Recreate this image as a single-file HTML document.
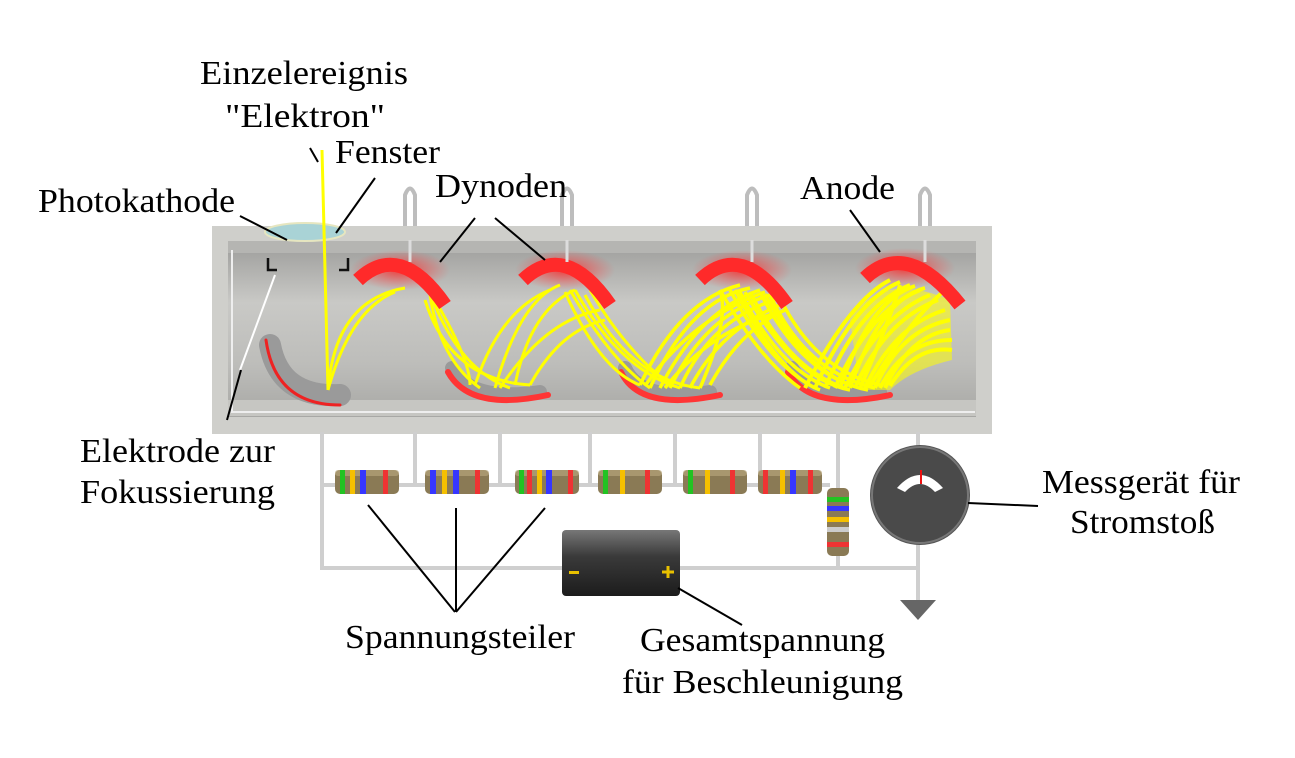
<!DOCTYPE html>
<html><head><meta charset="utf-8"><style>
html,body{margin:0;padding:0;background:#fff}
svg{display:block}
text{font-family:"Liberation Serif",serif;font-size:34px;fill:#000}
</style></head><body>
<svg width="1295" height="758" viewBox="0 0 1295 758" xmlns="http://www.w3.org/2000/svg">
<defs>
<linearGradient id="inner" x1="0" y1="0" x2="0" y2="1">
<stop offset="0" stop-color="#9c9c9a"/><stop offset="0.35" stop-color="#c9c9c6"/><stop offset="0.7" stop-color="#bdbdba"/><stop offset="1" stop-color="#a8a8a5"/>
</linearGradient>
<linearGradient id="bat" x1="0" y1="0" x2="0" y2="1">
<stop offset="0" stop-color="#777"/><stop offset="0.4" stop-color="#3a3a3a"/><stop offset="1" stop-color="#1c1c1c"/>
</linearGradient>
<radialGradient id="glow"><stop offset="0" stop-color="#ff2020" stop-opacity="0.8"/><stop offset="1" stop-color="#ff4040" stop-opacity="0"/></radialGradient>
<g id="res"><rect x="0" y="0" width="64" height="24" rx="5" fill="#8a7a55"/><rect x="0" y="0" width="64" height="6" rx="3" fill="#b5a47a" opacity="0.7"/></g>
</defs>

<g fill="none" stroke="#bdbdbd" stroke-width="4">
<path d="M405,245 V195 Q410,182 415,195 V240"/>
<path d="M562,245 V195 Q567,182 572,195 V240"/>
<path d="M747,245 V195 Q752,182 757,195 V240"/>
<path d="M920,245 V195 Q925,182 930,195 V240"/>
</g>

<rect x="212" y="226" width="780" height="208" fill="#cfcfcb"/>
<rect x="228" y="241" width="748" height="176" fill="url(#inner)"/>
<rect x="228" y="241" width="748" height="12" fill="#b5b5b2"/>
<rect x="228" y="400" width="748" height="16" fill="#c6c6c2"/>
<path d="M232,250 V412 H975" fill="none" stroke="#eee" stroke-width="2"/>
<ellipse cx="305" cy="232" rx="40" ry="9" fill="#a9d3d6" stroke="#e6e6c0" stroke-width="2"/>
<path d="M268,258 V270 H277 M348,258 V270 H339" fill="none" stroke="#111" stroke-width="2.5"/>
<line x1="275" y1="275" x2="240" y2="370" stroke="#fff" stroke-width="2"/>

<ellipse cx="400" cy="270" rx="50" ry="20" fill="url(#glow)"/>
<ellipse cx="565" cy="270" rx="50" ry="20" fill="url(#glow)"/>
<ellipse cx="742" cy="270" rx="50" ry="20" fill="url(#glow)"/>
<ellipse cx="905" cy="268" rx="50" ry="20" fill="url(#glow)"/>

<g fill="none" stroke-linecap="round">
<path d="M270,345 Q280,398 340,395" stroke="#9a9a9a" stroke-width="22"/>
<path d="M266,340 Q275,405 340,405" stroke="#e22" stroke-width="3"/>
<path d="M452,368 Q470,402 540,392" stroke="#9a9a9a" stroke-width="14"/>
<path d="M448,372 Q470,412 548,395" stroke="#ff3535" stroke-width="6"/>
<path d="M625,368 Q640,402 710,392" stroke="#9a9a9a" stroke-width="14"/>
<path d="M621,372 Q640,412 720,395" stroke="#ff3535" stroke-width="6"/>
<path d="M792,368 Q810,402 880,392" stroke="#9a9a9a" stroke-width="14"/>
<path d="M788,372 Q810,412 890,395" stroke="#ff3535" stroke-width="6"/>
</g>

<g fill="none" stroke="#ffff00" stroke-width="3">
<path d="M322,150 L328,390"/>
<path d="M328,390 Q335,300 405,288"/>
<path d="M328,390 Q350,310 395,292"/>
<path d="M430,295 Q440,360 480,388"/><path d="M432,298 Q460,370 510,388"/><path d="M425,300 Q450,380 530,385"/><path d="M435,300 Q470,360 470,385"/>
<path d="M475,385 Q500,310 550,290"/><path d="M495,388 Q520,300 560,285"/><path d="M515,385 Q530,310 575,290"/><path d="M500,388 Q545,320 600,310"/><path d="M530,385 Q560,330 605,320"/>
<path d="M570,290 Q610,360 650,388"/><path d="M575,290 Q620,370 680,388"/><path d="M585,295 Q630,380 700,388"/><path d="M565,292 Q600,370 640,385"/><path d="M590,290 Q625,350 670,385"/>
</g>
<g fill="none" stroke="#ffff00" stroke-width="3.5">
<path d="M640,385 Q680,300 740,285"/><path d="M650,388 Q690,300 750,288"/><path d="M660,388 Q700,310 760,290"/><path d="M670,388 Q705,315 770,295"/><path d="M680,388 Q710,320 775,300"/><path d="M690,388 Q720,330 780,305"/><path d="M700,388 Q730,320 720,290"/><path d="M710,385 Q740,330 785,310"/><path d="M645,386 Q690,320 765,292"/><path d="M665,388 Q710,330 780,312"/>
<path d="M720,290 Q760,360 800,388"/><path d="M730,290 Q770,365 815,388"/><path d="M740,292 Q780,370 830,388"/><path d="M750,292 Q790,370 845,388"/><path d="M760,292 Q800,372 860,388"/><path d="M770,295 Q805,372 875,388"/><path d="M780,298 Q815,370 880,385"/><path d="M735,290 Q780,375 820,390"/><path d="M745,292 Q795,380 850,390"/><path d="M765,294 Q810,380 868,390"/>
</g>
<g fill="none" stroke="#ffff00" stroke-width="4">
<path d="M805,388 Q850,300 890,280"/><path d="M815,388 Q855,300 900,282"/><path d="M825,388 Q860,305 910,285"/><path d="M835,388 Q870,310 920,290"/><path d="M845,388 Q880,315 930,295"/><path d="M855,388 Q885,320 938,300"/><path d="M865,388 Q895,325 945,310"/><path d="M875,388 Q900,330 950,320"/><path d="M885,388 Q910,335 950,330"/><path d="M860,388 Q890,320 900,285"/><path d="M870,386 Q910,320 945,290"/><path d="M850,388 Q880,300 925,288"/><path d="M840,388 Q870,300 915,286"/><path d="M880,388 Q905,340 952,340"/><path d="M890,386 Q915,345 952,350"/>
</g>
<path d="M860,390 L850,320 Q880,270 950,300 L952,360 Q910,370 890,390 Z" fill="#ffff00" opacity="0.55"/>

<g fill="none" stroke-linecap="butt">
<path d="M358,280 Q400,240 445,305" stroke="#ff2a2a" stroke-width="14"/>
<path d="M523,280 Q565,240 610,305" stroke="#ff2a2a" stroke-width="14"/>
<path d="M700,280 Q742,240 787,305" stroke="#ff2a2a" stroke-width="14"/>
<path d="M865,278 Q907,238 960,305" stroke="#ff2a2a" stroke-width="14"/>
</g>
<g stroke="#ddd" stroke-width="3">
<line x1="410" y1="240" x2="410" y2="262"/><line x1="567" y1="240" x2="567" y2="262"/><line x1="752" y1="240" x2="752" y2="262"/><line x1="925" y1="240" x2="925" y2="262"/>
</g>

<g fill="none" stroke="#cfcfcf" stroke-width="4">
<path d="M322,432 V568 H918"/>
<path d="M322,485 H830"/>
<path d="M415,432 V485 M500,432 V485 M590,432 V485 M675,432 V485 M760,432 V485 M838,432 V488"/>
<path d="M918,432 V600"/>
<path d="M838,555 V568"/>
</g>
<g>
<use href="#res" x="335" y="470"/><use href="#res" x="425" y="470"/><use href="#res" x="515" y="470"/>
<use href="#res" x="598" y="470"/><use href="#res" x="683" y="470"/><use href="#res" x="758" y="470"/>
</g>
<g>
<rect x="340" y="470" width="5" height="24" fill="#22c322"/><rect x="350" y="470" width="5" height="24" fill="#f5c000"/><rect x="360" y="470" width="6" height="24" fill="#3636ff"/><rect x="383" y="470" width="5" height="24" fill="#e33"/>
<rect x="430" y="470" width="6" height="24" fill="#3636ff"/><rect x="442" y="470" width="5" height="24" fill="#f5c000"/><rect x="453" y="470" width="6" height="24" fill="#3636ff"/><rect x="475" y="470" width="5" height="24" fill="#e33"/>
<rect x="519" y="470" width="5" height="24" fill="#22c322"/><rect x="527" y="470" width="5" height="24" fill="#e33"/><rect x="537" y="470" width="5" height="24" fill="#f5c000"/><rect x="546" y="470" width="6" height="24" fill="#3636ff"/><rect x="568" y="470" width="5" height="24" fill="#e33"/>
<rect x="603" y="470" width="5" height="24" fill="#22c322"/><rect x="620" y="470" width="5" height="24" fill="#f5c000"/><rect x="645" y="470" width="5" height="24" fill="#e33"/>
<rect x="688" y="470" width="5" height="24" fill="#22c322"/><rect x="705" y="470" width="5" height="24" fill="#f5c000"/><rect x="730" y="470" width="5" height="24" fill="#e33"/>
<rect x="763" y="470" width="5" height="24" fill="#e33"/><rect x="780" y="470" width="5" height="24" fill="#f5c000"/><rect x="790" y="470" width="6" height="24" fill="#3636ff"/><rect x="808" y="470" width="5" height="24" fill="#e33"/>
</g>
<rect x="827" y="488" width="22" height="68" rx="5" fill="#8a7a55"/>
<rect x="827" y="497" width="22" height="5" fill="#22c322"/><rect x="827" y="506" width="22" height="5" fill="#3636ff"/><rect x="827" y="517" width="22" height="5" fill="#f5c000"/><rect x="827" y="527" width="22" height="5" fill="#ccc"/><rect x="827" y="542" width="22" height="5" fill="#e33"/>

<rect x="562" y="530" width="118" height="66" rx="4" fill="url(#bat)"/>
<rect x="569" y="571" width="10" height="3" fill="#e8c000"/>
<path d="M668,566 v12 M662,572 h12" stroke="#e8c000" stroke-width="3"/>

<circle cx="920" cy="495" r="50" fill="#555"/>
<circle cx="920" cy="495" r="48" fill="#4a4a4a" stroke="#777" stroke-width="2"/>
<path d="M897,488 Q920,462 943,488 L935,492 Q920,476 905,492 Z" fill="#fff"/>
<line x1="921" y1="470" x2="921" y2="484" stroke="#e11" stroke-width="2"/>
<path d="M900,600 H936 L918,620 Z" fill="#666"/>

<g stroke="#000" stroke-width="2" fill="none">
<line x1="310" y1="148" x2="318" y2="162"/>
<line x1="375" y1="178" x2="336" y2="233"/>
<line x1="240" y1="216" x2="287" y2="240"/>
<line x1="475" y1="218" x2="440" y2="262"/>
<line x1="495" y1="218" x2="545" y2="260"/>
<line x1="850" y1="210" x2="880" y2="252"/>
<line x1="227" y1="420" x2="241" y2="370"/>
<line x1="368" y1="505" x2="455" y2="612"/>
<line x1="456" y1="508" x2="456" y2="612"/>
<line x1="545" y1="508" x2="456" y2="612"/>
<line x1="678" y1="588" x2="742" y2="625"/>
<line x1="968" y1="503" x2="1038" y2="506"/>
</g>

<g>
<text x="200" y="84" textLength="208" lengthAdjust="spacingAndGlyphs">Einzelereignis</text>
<text x="225" y="127" textLength="160" lengthAdjust="spacingAndGlyphs">"Elektron"</text>
<text x="335" y="163" textLength="105" lengthAdjust="spacingAndGlyphs">Fenster</text>
<text x="38" y="212" textLength="197" lengthAdjust="spacingAndGlyphs">Photokathode</text>
<text x="435" y="197" textLength="132" lengthAdjust="spacingAndGlyphs">Dynoden</text>
<text x="800" y="199" textLength="95" lengthAdjust="spacingAndGlyphs">Anode</text>
<text x="80" y="462" textLength="195" lengthAdjust="spacingAndGlyphs">Elektrode zur</text>
<text x="80" y="503" textLength="195" lengthAdjust="spacingAndGlyphs">Fokussierung</text>
<text x="1042" y="493" textLength="198" lengthAdjust="spacingAndGlyphs">Messgerät für</text>
<text x="1070" y="533" textLength="145" lengthAdjust="spacingAndGlyphs">Stromstoß</text>
<text x="345" y="648" textLength="230" lengthAdjust="spacingAndGlyphs">Spannungsteiler</text>
<text x="640" y="651" textLength="245" lengthAdjust="spacingAndGlyphs">Gesamtspannung</text>
<text x="622" y="693" textLength="281" lengthAdjust="spacingAndGlyphs">für Beschleunigung</text>
</g>
</svg>
</body></html>
